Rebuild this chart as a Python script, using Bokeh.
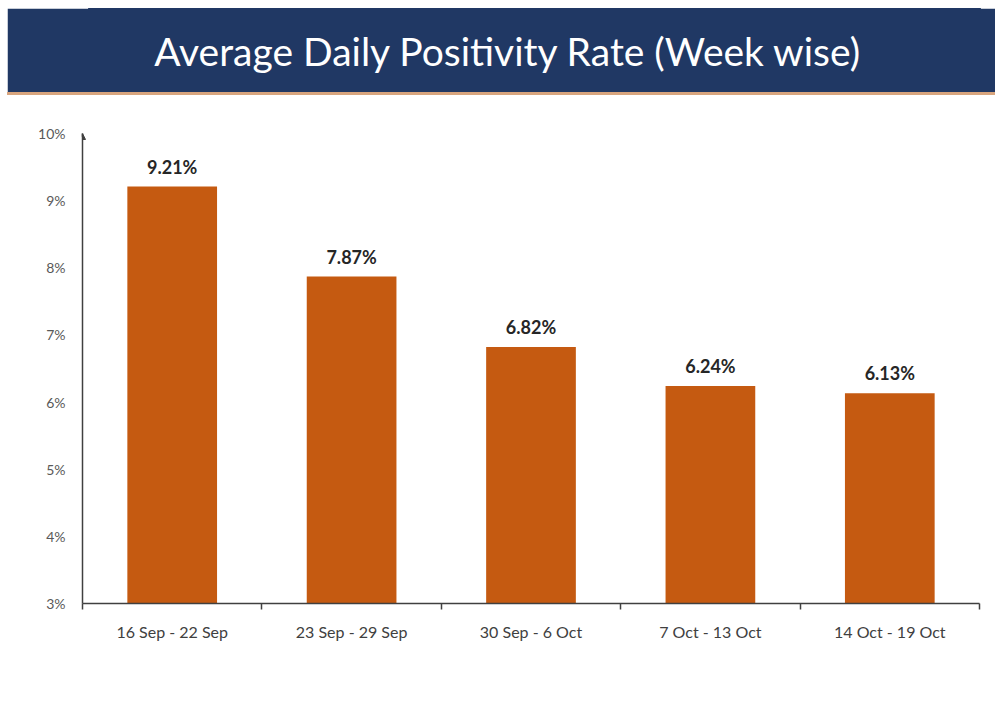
import numpy as np
from bokeh.plotting import figure
from bokeh.layouts import column
from bokeh.models import (ColumnDataSource, Range1d, FixedTicker, PrintfTickFormatter,
                          Arrow, NormalHead, LinearAxis, Div)
from bokeh.core.properties import value
from bokeh.embed import file_html
from bokeh.resources import INLINE

title_text = ["Average Daily Positivity Rate (Week wise)"]
categories = ["16 Sep - 22 Sep", "23 Sep - 29 Sep", "30 Sep - 6 Oct", "7 Oct - 13 Oct", "14 Oct - 19 Oct"]
rates = [9.21, 7.87, 6.82, 6.24, 6.13]
rate_labels = ["9.21%", "7.87%", "6.82%", "6.24%", "6.13%"]
y_ticks = [3, 4, 5, 6, 7, 8, 9, 10]

W = 995
BLUE = "#203864"
STRIP = "#d8a57e"


def bare(fig, color):
    fig.outline_line_color = None
    fig.xgrid.visible = False
    fig.ygrid.visible = False
    fig.background_fill_color = color
    fig.border_fill_color = color


# ---- banner ----
b = figure(width=W - 7, height=84, output_backend="svg", toolbar_location=None,
           x_range=Range1d(0, 1), y_range=Range1d(0, 1),
           min_border_left=0, min_border_right=0, min_border_top=0, min_border_bottom=0,
           x_axis_type=None, y_axis_type=None, margin=(8, 0, 0, 7))
bare(b, BLUE)
b.outline_line_color = BLUE
b.outline_line_width = 3
b.text(x=[0.5], y=[0.5], text=title_text, text_align="center", text_baseline="middle",
       x_offset=-26, text_font=value("Lato"), text_font_size="39px", text_color="white")

# ---- thin strip under banner ----
s = Div(text="", width=W - 7, height=3, margin=(0, 0, 0, 7),
        styles={"background-color": STRIP})

# ---- chart ----
H = 600
pos = np.arange(len(categories)) + 0.5
src = ColumnDataSource(dict(x=pos, top=rates, lab=rate_labels))

p = figure(width=W, height=H, output_backend="svg", toolbar_location=None,
           x_range=Range1d(0, len(categories)), y_range=Range1d(y_ticks[0], y_ticks[-1]),
           min_border_left=82, min_border_right=W - 979, min_border_top=38, min_border_bottom=92,
           x_axis_type=None, y_axis_type=None)
bare(p, "white")

p.vbar(x="x", top="top", bottom=y_ticks[0], width=0.5, source=src,
       fill_color="#c55a11", line_color=None)
p.text(x="x", y="top", text="lab", source=src, text_align="center", text_baseline="bottom",
       y_offset=-9, text_font=value("Lato"), text_font_style="bold", text_font_size="18px",
       text_color="#262626")

yaxis = LinearAxis(ticker=FixedTicker(ticks=y_ticks), formatter=PrintfTickFormatter(format="%d%%"))
yaxis.axis_line_color = "#404040"
yaxis.axis_line_width = 1.5
yaxis.major_tick_line_color = None
yaxis.minor_tick_line_color = None
yaxis.major_label_standoff = 11
yaxis.major_label_text_font = "Lato"
yaxis.major_label_text_font_size = "14px"
yaxis.major_label_text_color = "#595959"
p.add_layout(yaxis, "left")

xaxis = LinearAxis(ticker=FixedTicker(ticks=list(pos), minor_ticks=list(range(len(categories) + 1))))
xaxis.major_label_overrides = {float(x): c for x, c in zip(pos, categories)}
xaxis.axis_line_color = "#404040"
xaxis.axis_line_width = 1.5
xaxis.major_tick_line_color = None
xaxis.major_tick_out = 0
xaxis.major_tick_in = 0
xaxis.minor_tick_line_color = "#404040"
xaxis.minor_tick_line_width = 1.5
xaxis.minor_tick_out = 6
xaxis.minor_tick_in = 0
xaxis.major_label_standoff = 12
xaxis.major_label_text_font = "Lato"
xaxis.major_label_text_font_size = "16px"
xaxis.major_label_text_color = "#404040"
p.add_layout(xaxis, "below")

p.add_layout(Arrow(x_start=0, x_end=0, y_start=y_ticks[-1] - 0.05, y_end=y_ticks[-1],
                   end=NormalHead(size=6, fill_color="#404040", line_color="#404040"),
                   line_color="#404040", line_width=1.5))

layout = column(b, s, p, spacing=0)
open("out.html", "w").write(file_html(layout, INLINE))
